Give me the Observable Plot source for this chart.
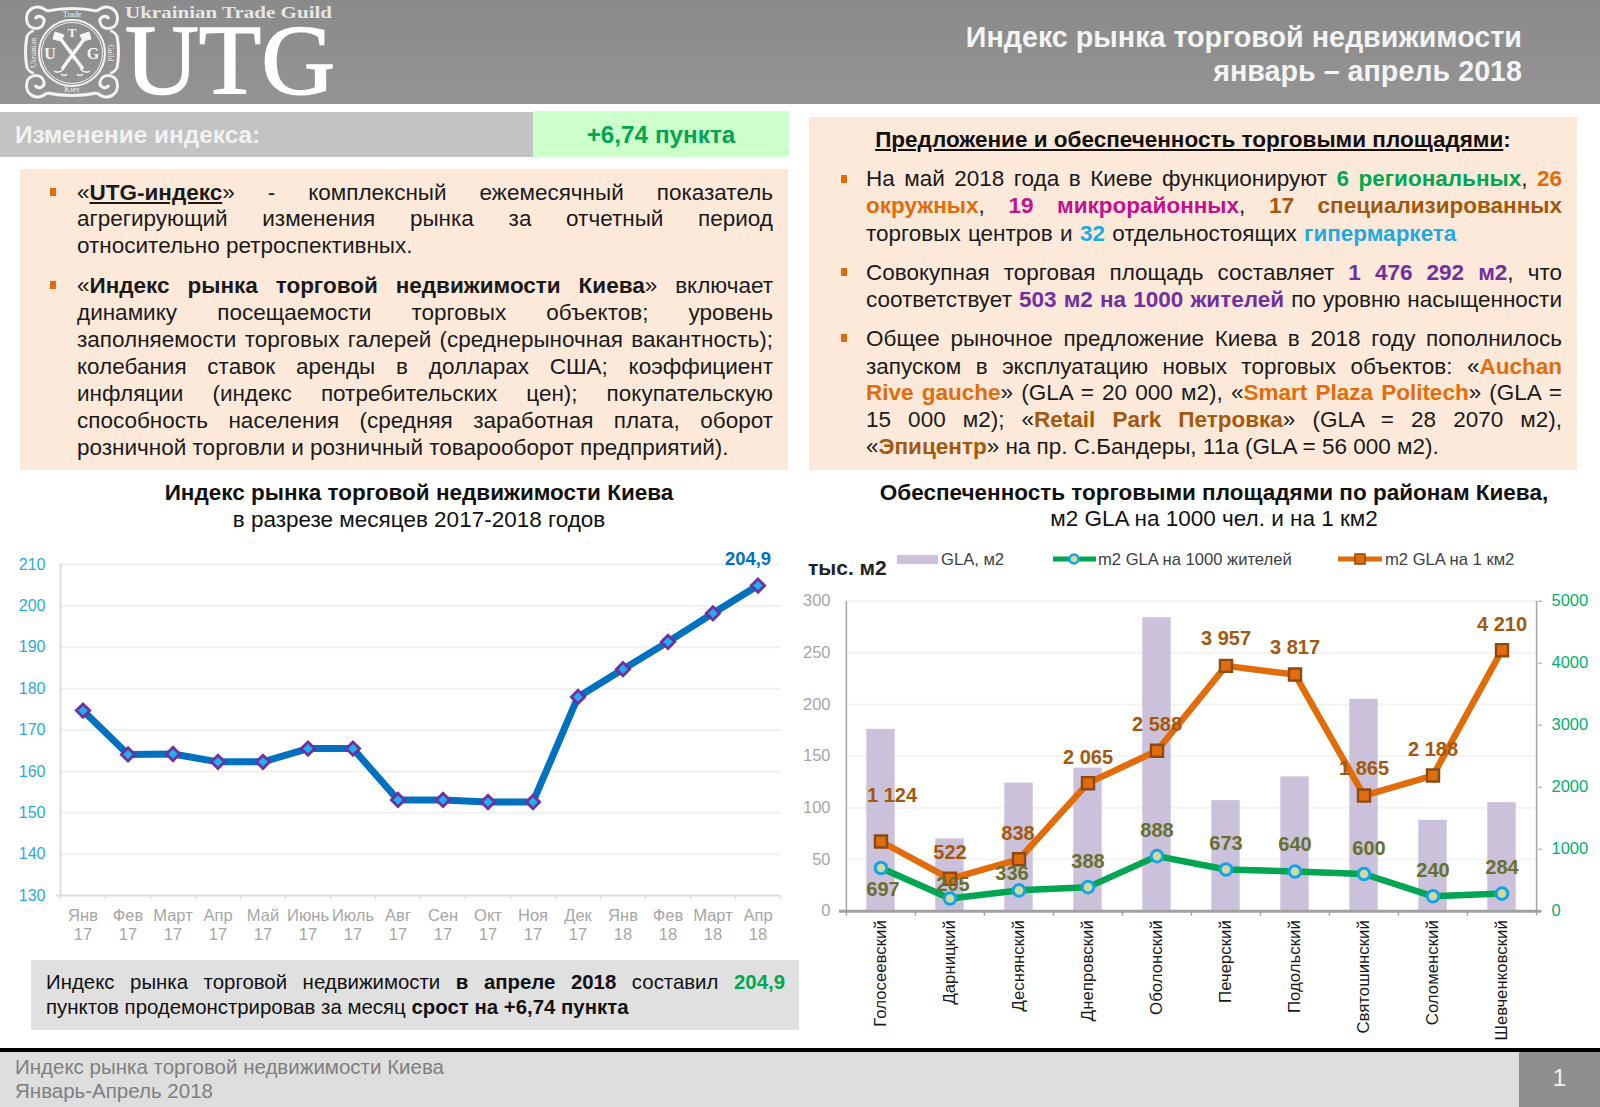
<!DOCTYPE html>
<html lang="ru">
<head>
<meta charset="utf-8">
<title>Индекс рынка торговой недвижимости</title>
<script src="https://cdn.jsdelivr.net/npm/d3@7"></script>
<script src="https://cdn.jsdelivr.net/npm/@observablehq/plot@0.6"></script>
<style>
html,body{margin:0;padding:0;background:#fff}
#page{position:relative;width:1600px;height:1107px;overflow:hidden;font-family:"Liberation Sans",Arial,sans-serif;color:#111;background:#fff}
.box{position:absolute}
.ln{position:absolute;height:26px;line-height:26px;font-size:22.5px;white-space:normal;color:#1a1a1a}
.j{text-align:justify;text-align-last:justify}
.bu{position:absolute;width:6px;height:8px;background:#e36c0a}
.ctr{position:absolute;text-align:center;white-space:nowrap;font-size:22.5px;line-height:26px;color:#111}
.plot{position:absolute}
b{font-weight:700}
.gr{color:#00a651;font-weight:700}.or{color:#e36c0a;font-weight:700}.mg{color:#c4108f;font-weight:700}
.br{color:#a3570f;font-weight:700}.bl{color:#1fa9e4;font-weight:700}.pu{color:#7030a0;font-weight:700}
.leg{position:absolute;font-size:16.6px;line-height:20px;white-space:nowrap;color:#404040}
</style>
</head>
<body>
<div id="page">
  <div class="box" style="left:0;top:0;width:1600px;height:104px;background:linear-gradient(#8a8a8a,#949494)"></div>
  <svg class="box" style="left:0;top:0;overflow:visible" width="350" height="125" font-family="Liberation Serif" fill="#f4f4f4">
    <g fill="none" stroke="#f4f4f4">
      <path d="M47 11Q72 6 97 11M27 36Q24 52 27 68M117 36Q120 52 117 68M47 93Q72 98 97 93" stroke-width="3"/>
      <path d="M47 11C36 2 24 10 27 22C29 30 42 31 44 22C45 17 38 14 35 19" stroke-width="3"/>
      <path d="M97 11C108 2 120 10 117 22C115 30 102 31 100 22C99 17 106 14 109 19" stroke-width="3"/>
      <path d="M47 93C36 102 24 94 27 82C29 74 42 73 44 82C45 87 38 90 35 85" stroke-width="3"/>
      <path d="M97 93C108 102 120 94 117 82C115 74 102 73 100 82C99 87 106 90 109 85" stroke-width="3"/>
      <path d="M27 36C29 33 31 31 34 31M117 36C115 33 113 31 110 31M27 68C29 71 31 73 34 73M117 68C115 71 113 73 110 73" stroke-width="2.5"/>
      <circle cx="72" cy="53" r="33" stroke-width="2"/>
      <circle cx="72" cy="53" r="30.5" stroke-width="1"/>
      <path d="M60 38L83 69M85 38L62 69" stroke-width="3.5"/>
      <path d="M55 32L64 35L61 41L53 39ZM89 32L80 35L83 41L91 39Z" fill="#f4f4f4" stroke-width="1"/>
      <path d="M80 69q6 5 10 2M83 74q-3 3 -6 0M64 69q-6 5 -10 2M61 74q3 3 6 0" stroke-width="1.5"/>
    </g>
    <text x="50" y="59" font-size="16" font-weight="700" text-anchor="middle">U</text>
    <text x="93" y="59" font-size="16" font-weight="700" text-anchor="middle">G</text>
    <text x="72" y="37" font-size="13" font-weight="700" text-anchor="middle">T</text>
    <text x="72" y="60" font-size="17" font-weight="700" text-anchor="middle">X</text>
    <text x="72" y="17" font-size="8" text-anchor="middle">Trade</text>
    <text x="72" y="92" font-size="8" text-anchor="middle">Kiev</text>
    <text transform="translate(36 53) rotate(-90)" font-size="7.5" text-anchor="middle">Ukrainian</text>
    <text transform="translate(108 53) rotate(90)" font-size="7.5" text-anchor="middle">Guild</text>
    <text x="125" y="17.5" font-size="16.5" font-weight="700" textLength="207" lengthAdjust="spacingAndGlyphs" fill="#e6e6e6">Ukrainian Trade Guild</text>
    <text x="125" y="93" font-size="100" stroke="#fff" stroke-width="1.6" textLength="210" lengthAdjust="spacingAndGlyphs" fill="#fff">UTG</text>
  </svg>
  <div class="ctr" style="right:78px;top:20px;font-size:28.7px;font-weight:700;line-height:34px;color:#f4f4f4">Индекс рынка торговой недвижимости</div>
  <div class="ctr" style="right:78px;top:54px;font-size:28.7px;font-weight:700;line-height:34px;color:#f4f4f4">январь – апрель 2018</div>

  <div class="box" style="left:0;top:112px;width:533px;height:45px;background:#c3c3c3"></div>
  <div class="box" style="left:533px;top:111px;width:256px;height:46px;background:#ccffcc"></div>
  <div class="ctr" style="left:15px;top:122px;font-size:24.4px;font-weight:700;color:#f2f2f2">Изменение индекса:</div>
  <div class="ctr" style="left:533px;width:256px;top:122px;font-size:24.3px;font-weight:700;color:#00a651">+6,74 пункта</div>

  <div class="box" style="left:20px;top:169px;width:768px;height:301px;background:#fde9d9"></div>
  <div class="box" style="left:809px;top:117px;width:768px;height:353px;background:#fde9d9"></div>

  <div class="bu" style="left:50px;top:188px"></div>
  <div class="ln j" style="left:77px;width:696px;top:180px">«<b style="text-decoration:underline">UTG-индекс</b>» - комплексный ежемесячный показатель</div>
  <div class="ln j" style="left:77px;width:696px;top:206px">агрегирующий изменения рынка за отчетный период</div>
  <div class="ln"   style="left:77px;width:696px;top:233px">относительно ретроспективных.</div>
  <div class="bu" style="left:50px;top:281px"></div>
  <div class="ln j" style="left:77px;width:696px;top:273px">«<b>Индекс рынка торговой недвижимости Киева</b>» включает</div>
  <div class="ln j" style="left:77px;width:696px;top:300px">динамику посещаемости торговых объектов; уровень</div>
  <div class="ln j" style="left:77px;width:696px;top:327px">заполняемости торговых галерей (среднерыночная вакантность);</div>
  <div class="ln j" style="left:77px;width:696px;top:354px">колебания ставок аренды в долларах США; коэффициент</div>
  <div class="ln j" style="left:77px;width:696px;top:381px">инфляции (индекс потребительских цен); покупательскую</div>
  <div class="ln j" style="left:77px;width:696px;top:408px">способность населения (средняя заработная плата, оборот</div>
  <div class="ln"   style="left:77px;width:696px;top:435px">розничной торговли и розничный товарооборот предприятий).</div>

  <div class="ctr" style="left:809px;width:768px;top:127px;font-weight:700;padding-right:0"><span style="text-decoration:underline">Предложение и обеспеченность торговыми площадями</span>:</div>
  <div class="bu" style="left:841px;top:175px"></div>
  <div class="ln j" style="left:866px;width:696px;top:166px">На май 2018 года в Киеве функционируют <span class="gr">6 региональных</span>, <span class="or">26</span></div>
  <div class="ln j" style="left:866px;width:696px;top:193px"><span class="or">окружных</span>, <span class="mg">19 микрорайонных</span>, <span class="br">17 специализированных</span></div>
  <div class="ln"   style="left:866px;width:696px;top:221px;word-spacing:1px">торговых центров и <span class="bl">32</span> отдельностоящих <span class="bl">гипермаркета</span></div>
  <div class="bu" style="left:841px;top:268px"></div>
  <div class="ln j" style="left:866px;width:696px;top:260px">Совокупная торговая площадь составляет <span class="pu">1 476 292 м2</span>, что</div>
  <div class="ln j" style="left:866px;width:696px;top:287px">соответствует <span class="pu">503 м2 на 1000 жителей</span> по уровню насыщенности</div>
  <div class="bu" style="left:841px;top:334px"></div>
  <div class="ln j" style="left:866px;width:696px;top:326px">Общее рыночное предложение Киева в 2018 году пополнилось</div>
  <div class="ln j" style="left:866px;width:696px;top:354px">запуском в эксплуатацию новых торговых объектов: «<span class="or">Auchan</span></div>
  <div class="ln j" style="left:866px;width:696px;top:380px"><span class="or">Rive gauche</span>» (GLA = 20 000 м2), «<span class="or">Smart Plaza Politech</span>» (GLA =</div>
  <div class="ln j" style="left:866px;width:696px;top:407px">15 000 м2); «<span class="br">Retail Park Петровка</span>» (GLA = 28 2070 м2),</div>
  <div class="ln"   style="left:866px;width:696px;top:434px">«<span class="br">Эпицентр</span>» на пр. С.Бандеры, 11а (GLA = 56 000 м2).</div>

  <div class="ctr" style="left:0;width:838px;top:480px;font-weight:700">Индекс рынка торговой недвижимости Киева</div>
  <div class="ctr" style="left:0;width:838px;top:507px">в разрезе месяцев 2017-2018 годов</div>
  <div class="ctr" style="left:814px;width:800px;top:480px;font-weight:700">Обеспеченность торговыми площадями по районам Киева,</div>
  <div class="ctr" style="left:814px;width:800px;top:506px">м2 GLA на 1000 чел. и на 1 км2</div>

  <div class="ctr" style="left:808px;top:555px;font-weight:700;font-size:21px;color:#222">тыс. м2</div>
  <svg class="box" style="left:897px;top:552px" width="42" height="14"><rect x="0" y="3" width="41" height="9" fill="#ccc1da"/></svg>
  <div class="leg" style="left:941px;top:550px">GLA, м2</div>
  <svg class="box" style="left:1052px;top:549px" width="46" height="20"><path d="M1 10H44" stroke="#00a651" stroke-width="5"/><circle cx="22" cy="10" r="4.5" fill="#d2d9a0" stroke="#12a5e6" stroke-width="2.5"/></svg>
  <div class="leg" style="left:1098px;top:550px">m2 GLA на 1000 жителей</div>
  <svg class="box" style="left:1338px;top:549px" width="46" height="20"><path d="M0 10H44" stroke="#e36c0a" stroke-width="5"/><rect x="17" y="5" width="10" height="10" fill="#e36c0a" stroke="#8a4a14" stroke-width="1.5"/></svg>
  <div class="leg" style="left:1385px;top:550px">m2 GLA на 1 км2</div>

  <div id="chartA" class="plot" style="left:0;top:545px"></div>
  <div id="chartB" class="plot" style="left:0;top:590px"></div>

  <div class="box" style="left:31px;top:960px;width:768px;height:70px;background:#e0e0e0"></div>
  <div class="ln j" style="left:46px;width:739px;top:969px;font-size:20.4px;color:#111">Индекс рынка торговой недвижимости <b>в апреле 2018</b> составил <span class="gr">204,9</span></div>
  <div class="ln"   style="left:46px;width:739px;top:994px;font-size:20.4px;color:#111">пунктов продемонстрировав за месяц <b>срост на +6,74 пункта</b></div>

  <div class="box" style="left:0;top:1048px;width:1600px;height:4px;background:#000"></div>
  <div class="box" style="left:0;top:1052px;width:1519px;height:55px;background:#dedede"></div>
  <div class="box" style="left:1519px;top:1052px;width:81px;height:55px;background:#8f8f8f"></div>
  <div class="ln" style="left:15px;top:1054px;font-size:20.5px;color:#7f7f7f">Индекс рынка торговой недвижимости Киева</div>
  <div class="ln" style="left:15px;top:1078px;font-size:20.5px;color:#7f7f7f">Январь-Апрель 2018</div>
  <div class="ctr" style="left:1519px;width:81px;top:1065px;font-size:24px;color:#f2f2f2">1</div>
</div>

<script>
// ---- Index chart data ----
const monthNames = ["Янв","Фев","Март","Апр","Май","Июнь","Июль","Авг","Сен","Окт","Ноя","Дек","Янв","Фев","Март","Апр"];
const monthYears = ["17","17","17","17","17","17","17","17","17","17","17","17","18","18","18","18"];
const indexValues = [174.7,164.1,164.2,162.3,162.3,165.5,165.5,153.1,153.1,152.6,152.6,178.0,184.7,191.3,198.2,204.9];
const indexTicks = [130,140,150,160,170,180,190,200,210];
const lastLabel = "204,9";

// ---- Districts chart data ----
const districts = ["Голосеевский","Дарницкий","Деснянский","Днепровский","Оболонский","Печерский","Подольский","Святошинский","Соломенский","Шевченковский"];
const gla = [176,70,124,138.5,284,107,130,205,88,105];
const perThousand = [697,205,336,388,888,673,640,600,240,284];
const perKm2 = [1124,522,838,2065,2588,3957,3817,1865,2188,4210];
const glaTicks = [0,50,100,150,200,250,300];
const rightTicks = [0,1000,2000,3000,4000,5000];
// Hand placement of value labels (pixel offsets from each point)
const kmLabelDx = [11,0,-1,0,0,0,0,0,0,0];
const kmLabelDy = [-46,-26,-26,-26,-26,-27,-27,-27,-26,-26];
const thLabelDx = [2,3,-7,0,0,0,0,5,0,0];
const thLabelDy = [22,-14,-17,-26,-26,-26,-27,-25,-26,-26];

const font = "'Liberation Sans', Arial, sans-serif";
const spaced = n => String(n).replace(/\B(?=(\d{3})+$)/g, " ");

// ---- Chart A ----
const months = monthNames.map((m, i) => m + "\n" + monthYears[i]);
const series = months.map((m, i) => ({m, v: indexValues[i]}));
const bandA = 720 / months.length;
document.getElementById("chartA").append(Plot.plot({
  width: 800, height: 405,
  marginLeft: 60, marginRight: 20, marginTop: 19, marginBottom: 55,
  style: {background: "transparent", overflow: "visible", fontFamily: font},
  x: {type: "band", domain: months, padding: 0, label: null},
  y: {domain: [130, 210], label: null},
  marks: [
    Plot.gridY(indexTicks.slice(1), {stroke: "#f0f0f0", strokeOpacity: 1, strokeWidth: 2}),
    Plot.ruleX(months, {x: d => d, y1: 130, y2: 130, dx: -bandA / 2, insetBottom: -4, stroke: "#dcdcdc", strokeWidth: 1.5}),
    Plot.ruleX(months.slice(-1), {x: d => d, y1: 130, y2: 130, dx: bandA / 2, insetBottom: -4, stroke: "#dcdcdc", strokeWidth: 1.5}),
    Plot.ruleX([0], {x: () => months[0], y1: 130, y2: 210, dx: -bandA / 2, stroke: "#dcdcdc", strokeWidth: 2}),
    Plot.ruleY([130], {insetLeft: -4, stroke: "#dcdcdc", strokeWidth: 2}),
    Plot.axisY({ticks: indexTicks, tickSize: 0, tickPadding: 15, fill: "#29abe2", fontSize: 16, label: null}),
    Plot.axisX({tickSize: 0, tickPadding: 13, fill: "#a6a6a6", fontSize: 16.5, lineHeight: 1.1, label: null}),
    Plot.line(series, {x: "m", y: "v", stroke: "#0070c0", strokeWidth: 7, strokeLinejoin: "miter"}),
    Plot.dot(series, {x: "m", y: "v", symbol: "diamond2", r: 6, fill: "#1fb0f0", stroke: "#7030a0", strokeWidth: 2.8}),
    Plot.text(series.slice(-1), {x: "m", y: "v", text: () => lastLabel, dx: -10, dy: -26, fill: "#0070c0", fontSize: 18.4, fontWeight: 700})
  ]
}));

// ---- Chart B ----
const rows = districts.map((d, i) => ({d, g: gla[i], th: perThousand[i], km: perKm2[i]}));
const k = 300 / 5000; // right axis values mapped to the left axis scale
const bandB = 692 / districts.length;
const labelFont = {fontSize: 20, fontWeight: 700};
document.getElementById("chartB").append(Plot.plot({
  width: 1600, height: 455,
  marginLeft: 845, marginRight: 63, marginTop: 10.7, marginBottom: 134.3,
  style: {background: "transparent", overflow: "visible", fontFamily: font},
  x: {type: "band", domain: districts, padding: 0, label: null},
  y: {domain: [0, 300], label: null},
  marks: [
    Plot.gridY(glaTicks.slice(1), {stroke: "#f3f3f3", strokeOpacity: 1, strokeWidth: 2}),
    Plot.barY(rows, {x: "d", y: "g", fill: "#ccc1da", insetLeft: 20.3, insetRight: 20.3}),
    Plot.ruleX(districts, {x: d => d, y1: 0, y2: 0, dx: -bandB / 2, insetBottom: -5, stroke: "#a6a6a6", strokeWidth: 1.5}),
    Plot.ruleX(districts.slice(-1), {x: d => d, y1: 0, y2: 0, dx: bandB / 2, insetBottom: -5, stroke: "#a6a6a6", strokeWidth: 1.5}),
    Plot.ruleX([0], {x: () => districts[0], y1: 0, y2: 300, dx: -bandB / 2, stroke: "#a6a6a6", strokeWidth: 1.5}),
    Plot.ruleX([0], {x: () => districts[districts.length - 1], y1: 0, y2: 300, dx: bandB / 2, stroke: "#a6a6a6", strokeWidth: 1.5}),
    Plot.ruleY([0], {insetLeft: -6, insetRight: -4, stroke: "#a0a0a0", strokeWidth: 3}),
    Plot.axisY({ticks: glaTicks, tickSize: 0, tickPadding: 15, fill: "#a6a6a6", fontSize: 16.5, label: null}),
    Plot.axisY(rightTicks, {anchor: "right", y: d => d * k, text: d => String(d), tickSize: 4, tickPadding: 10, stroke: "#a6a6a6", fill: "#00b06b", fontSize: 16.5, label: null}),
    Plot.axisX({tickSize: 0, tickRotate: -90, tickPadding: 9, fill: "#1a1a1a", fontSize: 16.8, label: null}),
    Plot.line(rows, {x: "d", y: d => d.th * k, stroke: "#00a651", strokeWidth: 6.5}),
    Plot.line(rows, {x: "d", y: d => d.km * k, stroke: "#e36c0a", strokeWidth: 6.5}),
    Plot.dot(rows, {x: "d", y: d => d.th * k, r: 5.8, fill: "#d2d9a0", stroke: "#12a5e6", strokeWidth: 3}),
    Plot.dot(rows, {x: "d", y: d => d.km * k, symbol: "square", r: 6.8, fill: "#e36c0a", stroke: "#8a4a14", strokeWidth: 2.4}),
    ...rows.map((r, i) => Plot.text([r], {x: "d", y: d => d.th * k, text: d => spaced(d.th), dx: thLabelDx[i], dy: thLabelDy[i], fill: "#66702f", ...labelFont})),
    ...rows.map((r, i) => Plot.text([r], {x: "d", y: d => d.km * k, text: d => spaced(d.km), dx: kmLabelDx[i], dy: kmLabelDy[i], fill: "#a3570f", ...labelFont}))
  ]
}));
</script>
</body>
</html>
